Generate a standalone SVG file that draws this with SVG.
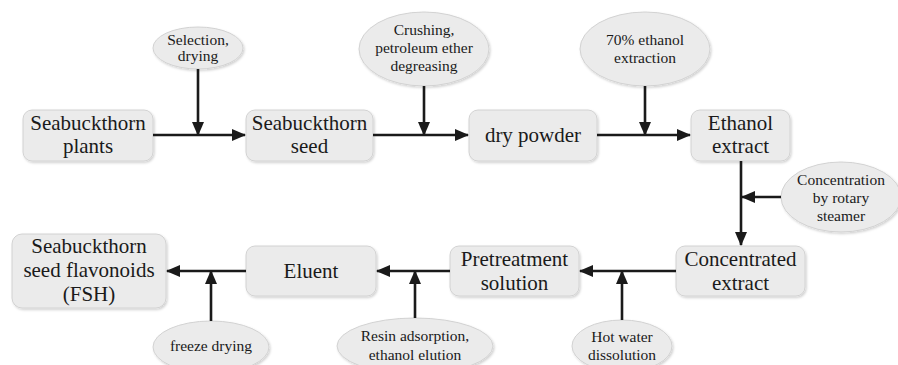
<svg xmlns="http://www.w3.org/2000/svg" width="898" height="365" viewBox="0 0 898 365" font-family="'Liberation Serif', serif">
<defs>
<filter id="sh" x="-10%" y="-10%" width="125%" height="130%">
<feDropShadow dx="1.2" dy="1.5" stdDeviation="1" flood-color="#000" flood-opacity="0.18"/>
</filter>
<marker id="ah" markerUnits="userSpaceOnUse" markerWidth="14" markerHeight="12" refX="13" refY="6" orient="auto">
<path d="M0,0 L14,6 L0,12 z" fill="#1a1a1a"/>
</marker>
<style>
.box{fill:#ebebeb;stroke:#d2d2d2;stroke-width:1;filter:url(#sh)}
.ell{fill:#ebebeb;stroke:#d2d2d2;stroke-width:1;filter:url(#sh)}
text{font-family:'Liberation Serif',serif;fill:#1a1a1a;text-anchor:middle}
.bt{font-size:21px}
.et{font-size:15.5px}
.c{stroke:#1a1a1a;stroke-width:2.6;fill:none}
.a{marker-end:url(#ah)}
</style>
</defs>
<rect width="898" height="365" fill="#fff"/>

<g id="n-plants"><rect class="box" x="23" y="110" width="130" height="51" rx="9"/><text class="bt" x="88" y="130">Seabuckthorn</text><text class="bt" x="88" y="153">plants</text></g>
<g id="n-seed"><rect class="box" x="246" y="110" width="127" height="51" rx="9"/><text class="bt" x="309.5" y="130">Seabuckthorn</text><text class="bt" x="309.5" y="153">seed</text></g>
<g id="n-powder"><rect class="box" x="469" y="110" width="128" height="51" rx="9"/><text class="bt" x="533" y="142">dry powder</text></g>
<g id="n-ethanol"><rect class="box" x="691" y="110" width="99" height="51" rx="9"/><text class="bt" x="740.5" y="130">Ethanol</text><text class="bt" x="740.5" y="153">extract</text></g>
<g id="n-conc"><rect class="box" x="676" y="246" width="129" height="50" rx="9"/><text class="bt" x="740.5" y="266">Concentrated</text><text class="bt" x="740.5" y="290">extract</text></g>
<g id="n-pre"><rect class="box" x="450" y="246" width="129" height="50" rx="9"/><text class="bt" x="514.5" y="266">Pretreatment</text><text class="bt" x="514.5" y="290">solution</text></g>
<g id="n-eluent"><rect class="box" x="246" y="246" width="130" height="50" rx="9"/><text class="bt" x="311" y="278">Eluent</text></g>
<g id="n-fsh"><rect class="box" x="12" y="234" width="154" height="74" rx="10"/><text class="bt" x="89" y="253">Seabuckthorn</text><text class="bt" x="89" y="277">seed flavonoids</text><text class="bt" x="89" y="301">(FSH)</text></g>

<g id="e-selection"><ellipse class="ell" cx="198" cy="48" rx="45" ry="21"/><text class="et" x="198" y="45">Selection,</text><text class="et" x="198" y="61">drying</text></g>
<g id="e-crushing"><ellipse class="ell" cx="424" cy="49" rx="65" ry="37"/><text class="et" x="424" y="35">Crushing,</text><text class="et" x="424" y="53">petroleum ether</text><text class="et" x="424" y="71">degreasing</text></g>
<g id="e-70"><ellipse class="ell" cx="645" cy="49" rx="65" ry="37"/><text class="et" x="645" y="45">70% ethanol</text><text class="et" x="645" y="63">extraction</text></g>
<g id="e-rotary"><ellipse class="ell" cx="841" cy="197" rx="60" ry="35"/><text class="et" x="841" y="185">Concentration</text><text class="et" x="841" y="203">by rotary</text><text class="et" x="841" y="221">steamer</text></g>
<g id="e-freeze"><ellipse class="ell" cx="211" cy="347" rx="58" ry="26"/><text class="et" x="211" y="351">freeze drying</text></g>
<g id="e-resin"><ellipse class="ell" cx="415" cy="346" rx="78" ry="28"/><text class="et" x="415" y="341">Resin adsorption,</text><text class="et" x="415" y="360">ethanol elution</text></g>
<g id="e-hot"><ellipse class="ell" cx="622" cy="346" rx="50" ry="26"/><text class="et" x="622" y="342">Hot water</text><text class="et" x="622" y="360">dissolution</text></g>

<g id="connectors">
<line class="c a" x1="153" y1="135" x2="245" y2="135"/>
<line class="c a" x1="198" y1="69" x2="198" y2="135"/>
<line class="c a" x1="373" y1="135" x2="468" y2="135"/>
<line class="c a" x1="424" y1="86" x2="424" y2="135"/>
<line class="c a" x1="597" y1="135" x2="690" y2="135"/>
<line class="c a" x1="645" y1="86" x2="645" y2="135"/>
<line class="c a" x1="741" y1="161" x2="741" y2="245"/>
<line class="c a" x1="781" y1="197" x2="742" y2="197"/>
<line class="c a" x1="676" y1="271" x2="580" y2="271"/>
<line class="c a" x1="622" y1="320" x2="622" y2="271"/>
<line class="c a" x1="450" y1="271" x2="377" y2="271"/>
<line class="c a" x1="415" y1="318" x2="415" y2="271"/>
<line class="c a" x1="246" y1="271" x2="167" y2="271"/>
<line class="c a" x1="211" y1="321" x2="211" y2="271"/>
</g>
</svg>
